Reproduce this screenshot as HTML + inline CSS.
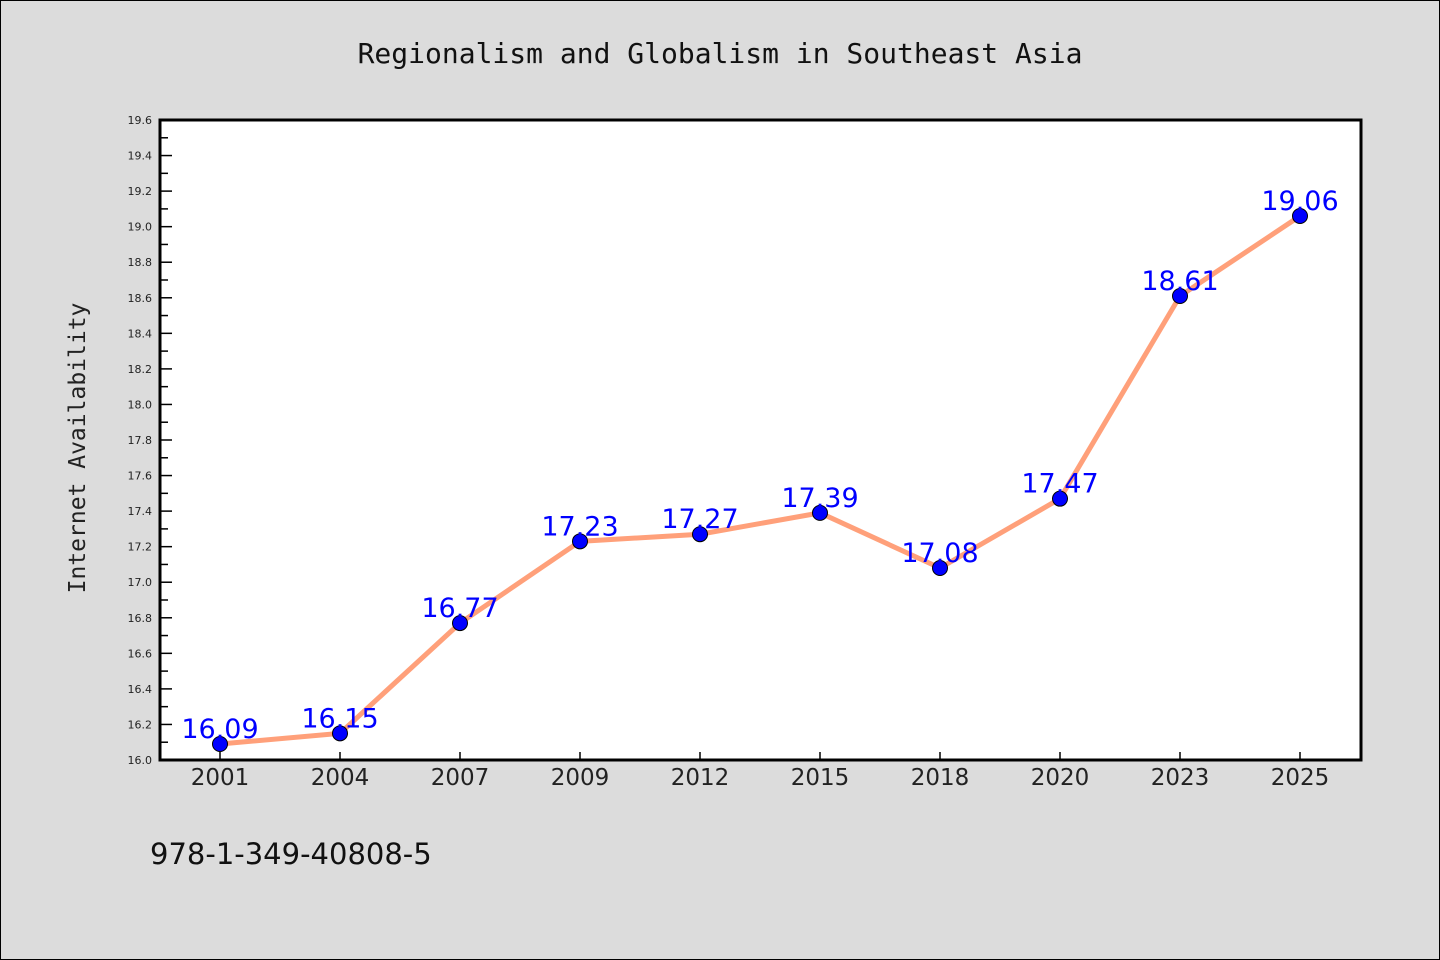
<!DOCTYPE html>
<html><head><meta charset="utf-8"><style>
body{margin:0;background:#dcdcdc;}
svg{display:block;}
</style></head><body>
<svg width="1440" height="960" xmlns="http://www.w3.org/2000/svg">
<rect x="0.5" y="0.5" width="1439" height="959" fill="#dcdcdc" stroke="#000"/>
<text x="720" y="63" text-anchor="middle" font-family="DejaVu Sans Mono, Liberation Mono, monospace" font-size="28" fill="#111">Regionalism and Globalism in Southeast Asia</text>
<rect x="160" y="120" width="1201" height="640" fill="#fff"/>
<g id="yaxis"></g>
<g id="xaxis"></g>
<g id="series"></g>
<rect x="160" y="120" width="1201" height="640" fill="none" stroke="#000" stroke-width="3"/>
<text transform="translate(85,448) rotate(-90)" text-anchor="middle" font-family="DejaVu Sans Mono, Liberation Mono, monospace" font-size="23" fill="#222">Internet Availability</text>
<text x="150" y="864" font-family="DejaVu Sans, Liberation Sans, sans-serif" font-size="29" fill="#111">978-1-349-40808-5</text>
</svg>
<script>
const categories=["2001","2004","2007","2009","2012","2015","2018","2020","2023","2025"];
const values=[16.09,16.15,16.77,17.23,17.27,17.39,17.08,17.47,18.61,19.06];
const valueLabels=["16.09","16.15","16.77","17.23","17.27","17.39","17.08","17.47","18.61","19.06"];
const yTicks=[16.0,16.2,16.4,16.6,16.8,17.0,17.2,17.4,17.6,17.8,18.0,18.2,18.4,18.6,18.8,19.0,19.2,19.4,19.6];
const NS="http://www.w3.org/2000/svg";
const L=160,R=1361,T=120,B=760,ymin=16,ymax=19.6;
const y=v=>B-(v-ymin)/(ymax-ymin)*(B-T);
const x=i=>220+i*((1300-220)/(categories.length-1));
function mk(t,a,p){const e=document.createElementNS(NS,t);for(const k in a)e.setAttribute(k,a[k]);p.appendChild(e);return e;}
const ya=document.getElementById('yaxis'),xa=document.getElementById('xaxis'),s=document.getElementById('series');
yTicks.forEach((v,i)=>{
 const l=mk('line',{x1:L,x2:L+12,y1:y(v),y2:y(v),stroke:'#000','stroke-width':1.5},ya);
 
 
 if(i<yTicks.length-1){const m=mk('line',{x1:L,x2:L+8,y1:y(v+0.1),y2:y(v+0.1),stroke:'#000','stroke-width':1.5},ya);
 
 }
 const t=mk('text',{x:L-8,y:y(v)+4,'text-anchor':'end','font-family':'DejaVu Sans, Liberation Sans, sans-serif','font-size':11,fill:'#222'},ya);
 t.textContent=v.toFixed(1);
 
 
});
categories.forEach((c,i)=>{
 const l=mk('line',{x1:x(i),x2:x(i),y1:B,y2:B-8,stroke:'#000','stroke-width':1.5},xa);
 
 
 const t=mk('text',{x:x(i),y:785,'text-anchor':'middle','font-family':'DejaVu Sans, Liberation Sans, sans-serif','font-size':23,fill:'#222'},xa);
 t.textContent=c;
 
 
});
const pl=mk('polyline',{points:values.map((v,i)=>x(i)+','+y(v)).join(' '),fill:'none',stroke:'#ffa07a','stroke-width':5},s);


values.forEach((v,i)=>{
 const c=mk('circle',{cx:x(i),cy:y(v),r:7.5,fill:'#0000ff',stroke:'#000','stroke-width':1},s);
 
 
 const t=mk('text',{x:x(i),y:y(v)-6,'text-anchor':'middle','font-family':'DejaVu Sans, Liberation Sans, sans-serif','font-size':27,fill:'#0000ff'},s);
 t.textContent=valueLabels[i];
 
 
});
</script>
</body></html>
